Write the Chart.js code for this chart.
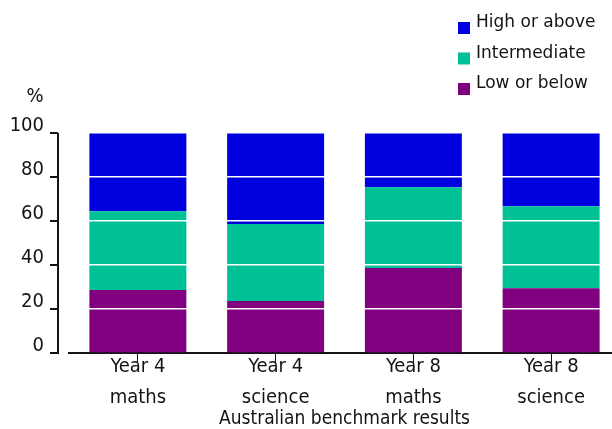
<!DOCTYPE html>
<html>
<head>
<meta charset="utf-8">
<script src="https://cdn.jsdelivr.net/npm/chart.js@4"></script>
<style>
  html, body { margin: 0; padding: 0; background: #fff; overflow: hidden; }
  #wrap { width: 620px; height: 429px; }
</style>
</head>
<body>
<div id="wrap"><canvas id="chart"></canvas></div>
<script>
// Category labels (two lines each)
const categories = [
  ['Year 4', 'maths'],
  ['Year 4', 'science'],
  ['Year 8', 'maths'],
  ['Year 8', 'science']
];

// Share of students in each band, %
const lowOrBelow   = [28.6, 23.6, 38.6, 29.4];
const intermediate = [35.8, 35.0, 36.7, 37.3];
const highOrAbove  = [35.6, 41.4, 24.7, 33.5];

const seriesNames   = ['Low or below', 'Intermediate', 'High or above'];
const seriesColours = ['#800080', '#00C096', '#0000DF'];

const yUnit  = '%';
const xTitle = 'Australian benchmark results';

const condensed = 'DejaVu Sans Condensed, DejaVu Sans, sans-serif';
const regular   = 'DejaVu Sans, sans-serif';
const ink = '#141414';

// Detached y axis line, unit label and a vertical legend
const extras = {
  id: 'extras',
  afterDraw(chart) {
    const { ctx, chartArea, scales: { y } } = chart;
    ctx.save();

    const ax = chartArea.left - 11;
    ctx.strokeStyle = ink;
    ctx.lineWidth = 2;
    ctx.beginPath();
    ctx.moveTo(ax, y.getPixelForValue(y.max));
    ctx.lineTo(ax, y.getPixelForValue(y.min) + 1);
    ctx.stroke();
    y.ticks.forEach(t => {
      const py = y.getPixelForValue(t.value);
      ctx.beginPath();
      ctx.moveTo(ax - 8, py);
      ctx.lineTo(ax, py);
      ctx.stroke();
    });

    ctx.fillStyle = ink;
    ctx.font = '20px ' + condensed;
    ctx.textAlign = 'center';
    ctx.textBaseline = 'alphabetic';
    ctx.fillText(yUnit, 35, 102);

    // legend, top series first
    const ds = chart.data.datasets.slice().reverse();
    ctx.font = '17px ' + regular;
    ctx.textAlign = 'left';
    ds.forEach((d, i) => {
      const top = 22 + i * 30.5;
      ctx.fillStyle = d.backgroundColor;
      ctx.fillRect(458, top, 12, 12);
      ctx.fillStyle = ink;
      ctx.fillText(d.label, 476, top + 5);
    });
    ctx.restore();
  }
};

new Chart(document.getElementById('chart'), {
  type: 'bar',
  data: {
    labels: categories,
    datasets: [
      { label: seriesNames[0], data: lowOrBelow,   backgroundColor: seriesColours[0] },
      { label: seriesNames[1], data: intermediate, backgroundColor: seriesColours[1] },
      { label: seriesNames[2], data: highOrAbove,  backgroundColor: seriesColours[2] }
    ]
  },
  options: {
    responsive: true,
    maintainAspectRatio: false,
    animation: false,
    devicePixelRatio: 1,
    layout: { padding: { top: 133, left: 0, right: 0, bottom: 0 } },
    datasets: {
      bar: { categoryPercentage: 1, barPercentage: 0.704, borderWidth: 0, clip: false }
    },
    plugins: {
      legend: { display: false },
      title: { display: false },
      tooltip: { enabled: false }
    },
    scales: {
      x: {
        stacked: true,
        afterFit(s) { s.height = 76; },
        border: { display: true, color: ink, width: 2 },
        grid: {
          display: true, drawOnChartArea: false, drawTicks: true,
          tickLength: 10, offset: false, color: ink, lineWidth: 1
        },
        ticks: {
          padding: -12, color: ink, autoSkip: false, maxRotation: 0,
          font: { family: condensed, size: 20, lineHeight: 1.55 }
        },
        title: {
          display: true, text: xTitle, color: ink,
          font: { family: condensed, size: 19, lineHeight: 1 },
          padding: { top: 0, bottom: 0 }
        }
      },
      y: {
        stacked: true,
        min: 0,
        max: 100,
        afterFit(s) { s.width = 69; },
        border: { display: false },
        grid: {
          z: 1,
          drawTicks: false,
          lineWidth: 1.5,
          color: c => (c.tick && c.tick.value === 0) ? 'rgba(0,0,0,0)' : '#ffffff'
        },
        ticks: {
          stepSize: 20, padding: 25, labelOffset: -7, color: ink,
          font: { family: condensed, size: 20 }
        }
      }
    }
  },
  plugins: [extras]
});
</script>
</body>
</html>
